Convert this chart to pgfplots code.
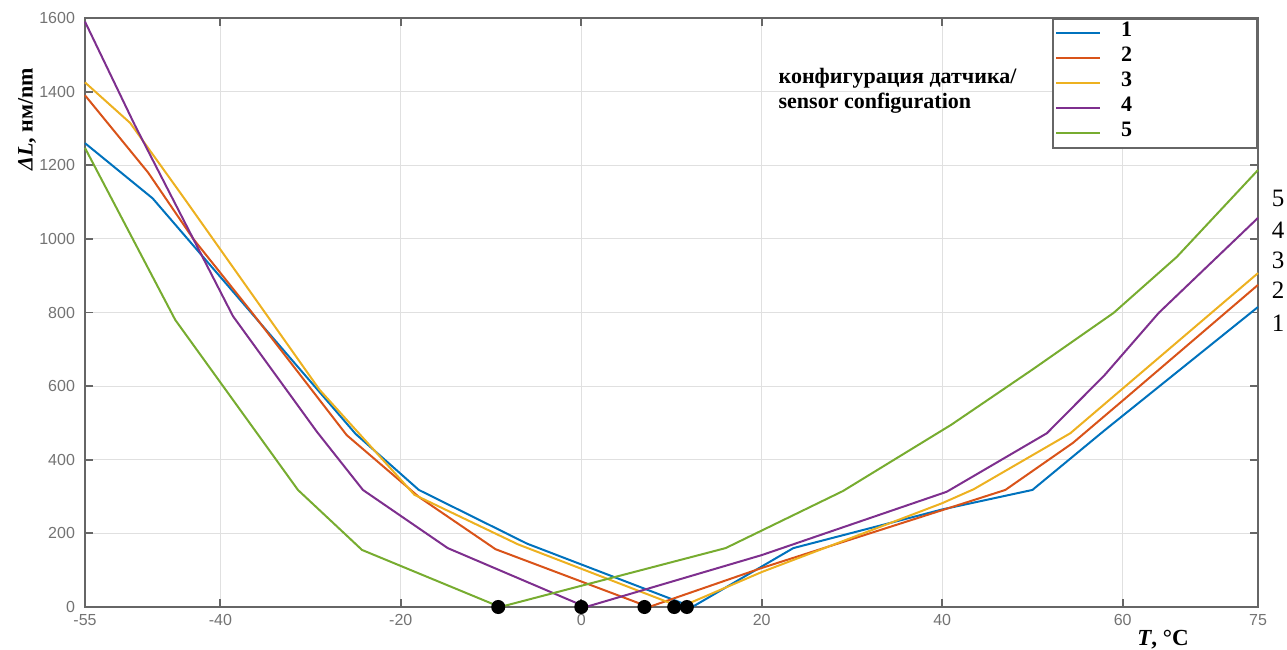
\documentclass[border=0pt]{standalone}
\usepackage{fontspec}
\setmainfont{Liberation Serif}
\setsansfont{Liberation Sans}
\usepackage{pgfplots}
\pgfplotsset{compat=1.18}
\definecolor{c1}{RGB}{0,114,189}
\definecolor{c2}{RGB}{217,83,25}
\definecolor{c3}{RGB}{237,177,32}
\definecolor{c4}{RGB}{126,47,142}
\definecolor{c5}{RGB}{119,172,48}
\begin{document}
\begin{tikzpicture}
\begin{axis}[
scale only axis,
width=586.5pt,
height=294.5pt,
xmin=-55, xmax=75,
ymin=0, ymax=1600,
xtick={-55,-40,-20,0,20,40,60,75},
xticklabels={-55,-40,-20,0,20,40,60,75},
ytick={0,200,400,600,800,1000,1200,1400,1600},
yticklabels={0,200,400,600,800,1000,1200,1400,1600},
grid=major,
major grid style={black!12, line width=0.6pt},
tick align=inside,
major tick length=4pt,
axis line style={black!60, line width=0.9pt},
tick style={black!60, line width=0.9pt},
ticklabel style={font=\sffamily\fontsize{8}{9}\selectfont, text=black!55},
yticklabel style={xshift=-1.5pt},
clip=false,
legend cell align=left,
legend style={at={(1,1)}, anchor=north east, draw=black!60, line width=0.9pt,
  inner sep=1pt, row sep=0pt,
  font=\bfseries\fontsize{11}{12}\selectfont,
  nodes={inner sep=0pt, text height=8pt, text depth=4.5pt}},
legend image code/.code={\draw[#1, line width=1pt] (1.5pt,0pt) -- (23.5pt,0pt);},
every axis plot/.append style={line width=1pt},
]
\addplot[c1] coordinates {(-55,1260) (-47.5,1110) (-25,470) (-18,318) (-6,172) (12.3,0) (23.5,160) (40,265) (50,318) (58,480) (75,815)};
\addlegendentry{\makebox[77pt][l]{\hspace*{10pt}1}}
\addplot[c2] coordinates {(-55,1390) (-48,1180) (-43,1000) (-36.5,800) (-26,467) (-18,299) (-9.5,157) (7.5,0) (20,106) (47,318) (54.5,446) (60.5,571) (75,875)};
\addlegendentry{\makebox[77pt][l]{\hspace*{10pt}2}}
\addplot[c3] coordinates {(-55,1425) (-50,1315) (-44,1110) (-29,590) (-18.5,305) (-7,170) (11,0) (20,95) (40,282) (43.5,320) (54.2,472) (75,907)};
\addlegendentry{\makebox[77pt][l]{\hspace*{10pt}3}}
\addplot[c4] coordinates {(-55,1590) (-49.5,1310) (-38.6,790) (-29.3,476) (-24.2,318) (-14.8,160) (0.5,0) (20,141) (40.5,313) (51.6,472) (58,630) (64,799) (75,1057)};
\addlegendentry{\makebox[77pt][l]{\hspace*{10pt}4}}
\addplot[c5] coordinates {(-55,1247) (-45,780) (-31.4,318) (-24.3,155) (-9,0) (16,160) (29,315) (41,495) (50,645) (59,799) (66,951) (75,1187)};
\addlegendentry{\makebox[77pt][l]{\hspace*{10pt}5}}
\addplot[only marks, mark=*, black, mark size=3pt, forget plot] coordinates {(-9.2,0) (0,0) (7,0) (10.3,0) (11.7,0)};
\node[anchor=north west, align=left, inner sep=0pt, font=\bfseries\fontsize{11}{12.5}\selectfont] at (rel axis cs:0.591,0.915) {конфигурация датчика/\\sensor configuration};
\coordinate (yl) at (rel axis cs:0,0.828);
\coordinate (xl) at (rel axis cs:0.919,0);
\coordinate (r5) at (axis cs:75,1111);
\coordinate (r4) at (axis cs:75,1024);
\coordinate (r3) at (axis cs:75,943);
\coordinate (r2) at (axis cs:75,861);
\coordinate (r1) at (axis cs:75,772);
\end{axis}
\node[rotate=90, font=\bfseries\fontsize{11}{13}\selectfont] at ([xshift=-29pt]yl) {\textit{ΔL}, нм/nm};
\node[font=\bfseries\fontsize{11.5}{13}\selectfont] at ([yshift=-16.5pt]xl) {\textit{T}, °C};
\foreach \k in {1,...,5} {
  \node[font=\fontsize{12.5}{14}\selectfont, inner sep=0pt] at ([xshift=10pt]r\k) {\k};
}
\pgfresetboundingbox
\path (current axis.south west) ++(-42.5pt,-21pt) rectangle ++(643.5pt,324.5pt);
\end{tikzpicture}
\end{document}
